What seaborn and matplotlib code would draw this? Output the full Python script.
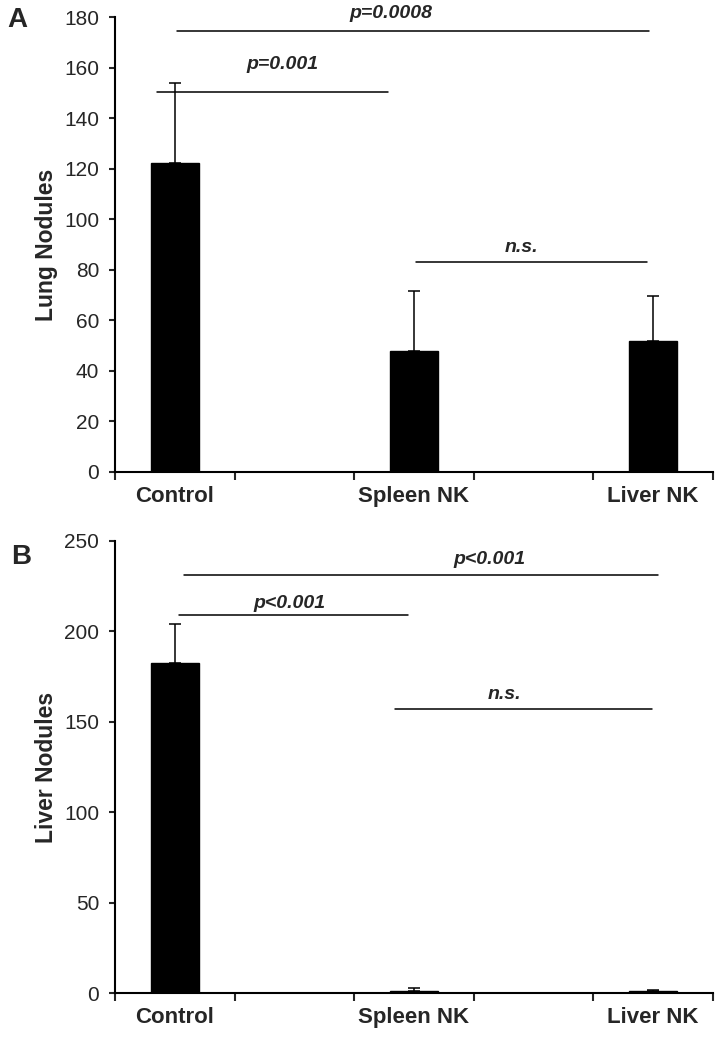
import numpy as np
import pandas as pd
import matplotlib
matplotlib.use('Agg')
import matplotlib.pyplot as plt
import seaborn as sns

# Data
groups = ['Control', 'Spleen NK', 'Liver NK']
slots = ['Control', 'gap1', 'Spleen NK', 'gap2', 'Liver NK']

lung_mean = [122.3, 47.9, 51.7]
lung_err = [31.8, 23.5, 17.8]
liver_mean = [182.6, 1.5, 1.2]
liver_err = [21.3, 1.2, 0.5]

# significance brackets: (x0, x1, y_line, label, x_text, y_text)
lung_sig = [(0.02, 3.97, 174.5, 'p=0.0008', 1.81, 178.0),
            (-0.15, 1.78, 150.5, 'p=0.001', 0.90, 158.0),
            (2.02, 3.95, 83.0, 'n.s.', 2.90, 85.5)]
liver_sig = [(0.075, 4.04, 231.0, 'p<0.001', 2.63, 235.0),
             (0.03, 1.95, 209.0, 'p<0.001', 0.96, 210.5),
             (1.84, 3.99, 157.0, 'n.s.', 2.76, 160.5)]

sns.set_style('ticks')
plt.rcParams['font.family'] = ['Liberation Sans', 'DejaVu Sans']

fig = plt.figure(figsize=(7.2, 10.42), dpi=100)
ax_a = fig.add_axes([0.16, 0.5473, 0.83, 0.4363])
ax_b = fig.add_axes([0.16, 0.0467, 0.83, 0.4344])


def draw_panel(ax, means, errs, sigs, ylim, ystep, ylabel):
    df = pd.DataFrame({'group': groups, 'value': means})
    sns.barplot(data=df, x='group', y='value', order=slots, color='black',
                width=0.4, saturation=1, edgecolor='black', ax=ax, errorbar=None)
    xpos = [slots.index(g) for g in groups]
    ax.errorbar(xpos, means, yerr=[np.zeros(len(errs)), errs], fmt='none',
                ecolor='black', elinewidth=1.1, capsize=4, capthick=1.1)
    for x0, x1, yl, lab, xt, yt in sigs:
        ax.plot([x0, x1], [yl, yl], color='black', lw=1.1)
        ax.text(xt, yt, lab, ha='center', va='bottom', fontsize=14,
                fontweight='bold', fontstyle='italic')
    ax.set_xlim(-0.5, 4.5)
    ax.set_ylim(*ylim)
    ax.set_yticks(np.arange(ylim[0], ylim[1] + 1, ystep))
    ax.tick_params(axis='y', labelsize=15, length=4.5, width=1.5,
                   direction='out', pad=7)
    ax.set_xticks([0, 2, 4])
    ax.set_xticklabels(groups, fontsize=16, fontweight='bold')
    ax.tick_params(axis='x', length=0, pad=10)
    ax.set_xticks(np.arange(-0.5, 5, 1), minor=True)
    ax.tick_params(axis='x', which='minor', length=6, width=1.5, direction='out')
    ax.set_xlabel('')
    ax.set_ylabel(ylabel, fontsize=16.5, fontweight='bold')
    ax.yaxis.set_label_coords(-0.095, 0.5)
    for s in ['top', 'right']:
        ax.spines[s].set_visible(False)
    for s in ['left', 'bottom']:
        ax.spines[s].set_linewidth(1.5)
        ax.spines[s].set_color('black')


draw_panel(ax_a, lung_mean, lung_err, lung_sig, (0, 180), 20, 'Lung Nodules')
draw_panel(ax_b, liver_mean, liver_err, liver_sig, (0, 250), 50, 'Liver Nodules')

fig.text(0.024, 0.981, 'A', fontsize=20, fontweight='bold', ha='center', va='center')
fig.text(0.030, 0.465, 'B', fontsize=20, fontweight='bold', ha='center', va='center')

fig.savefig('out.png', dpi=100)
